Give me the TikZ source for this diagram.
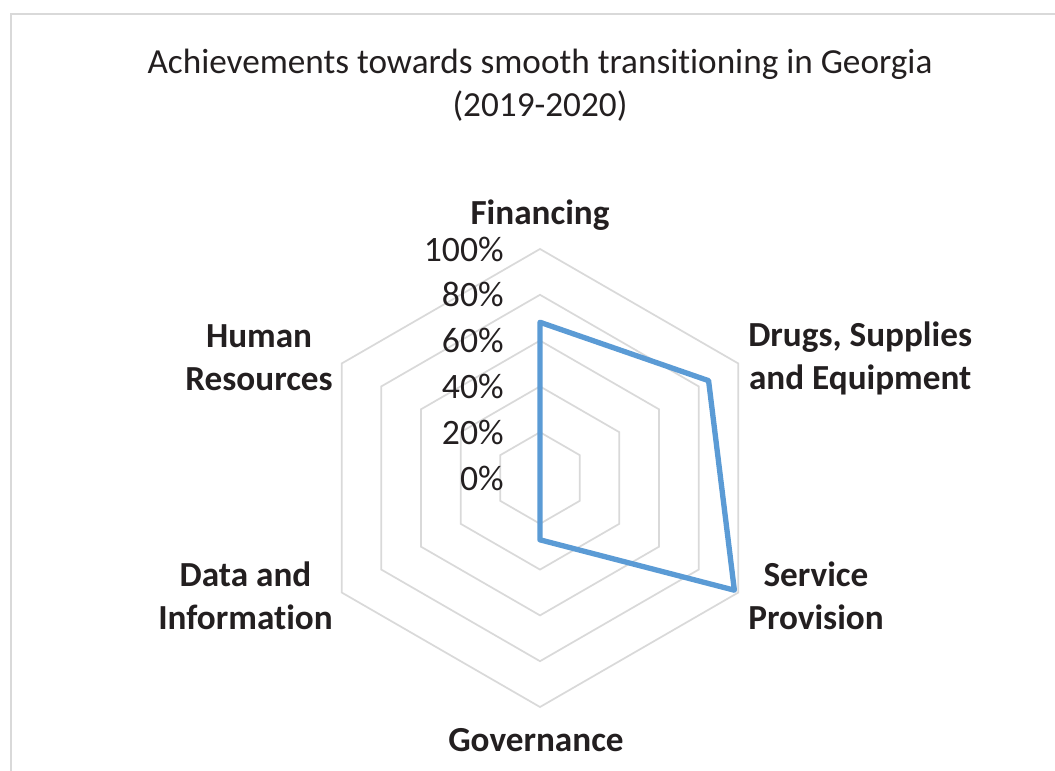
\documentclass[tikz,border=0pt]{standalone}
\usepackage{fontspec}
\setmainfont{Carlito}[Ligatures={NoCommon}]
\usepackage{xcolor}
\usetikzlibrary{positioning,calc}
\definecolor{GridColour}{HTML}{D9D9D9}
\definecolor{SeriesColour}{HTML}{5B9BD5}
\definecolor{ChartTextColour}{HTML}{231F20}
\tikzstyle{ChartFrame}=[draw=GridColour,line width=1.4pt]
\tikzstyle{ChartTitle}=[align=center,text=ChartTextColour,font=\fontsize{26.4}{32}\selectfont]
\tikzstyle{AxisLabel}=[align=center,text=ChartTextColour,font=\bfseries\fontsize{26.4}{32.3}\selectfont,inner sep=0pt]
\tikzstyle{TickLabel}=[anchor=east,text=ChartTextColour,font=\fontsize{26.8}{30}\selectfont,inner sep=0pt]
\tikzstyle{GridRing}=[draw=GridColour,line width=1.3pt]
\tikzstyle{SeriesLine}=[draw=SeriesColour,line width=4pt,line join=round]
\newcommand{\RingStep}{45.8}

\begin{document}
\begin{tikzpicture}[x=0.75pt,y=0.75pt]
  \useasboundingbox (0,0) rectangle (1055,770);
  \draw[ChartFrame] (11,-20) rectangle (1080,756);
  \node[ChartTitle](Title) at (540,685){Achievements towards smooth transitioning in Georgia\\(2019-2020)};
  \coordinate (Centre) at (540,292);

  % grid rings 20% .. 100%
  \foreach \r in {1,...,5}{
    \draw[GridRing,shift={(Centre)}] (90:\r*\RingStep) -- (30:\r*\RingStep) -- (-30:\r*\RingStep) -- (-90:\r*\RingStep) -- (-150:\r*\RingStep) -- (150:\r*\RingStep) -- cycle;
  }
  \foreach \p [count=\i from 0] in {0,20,40,60,80,100}
    \node[TickLabel](Tick\p) at ($(Centre)+(-36,\i*\RingStep)$){\p\%};

  % data points
  \coordinate (FinancingVal) at ($(Centre)+(90:0.68*5*\RingStep)$);
  \coordinate (DrugsVal) at ($(Centre)+(30:0.85*5*\RingStep)$);
  \coordinate (ServiceVal) at ($(Centre)+(-30:0.98*5*\RingStep)$);
  \coordinate (GovernanceVal) at ($(Centre)+(-90:0.27*5*\RingStep)$);
  \coordinate (DataVal) at (Centre);
  \coordinate (HumanVal) at (Centre);
  \draw[SeriesLine] (FinancingVal) -- (DrugsVal) -- (ServiceVal) -- (GovernanceVal) -- (DataVal) -- (HumanVal) -- cycle;

  \node[AxisLabel](Financing) at (540,555){Financing};
  \node[AxisLabel,anchor=west](Drugs) at (748,412){Drugs, Supplies\\and Equipment};
  \node[AxisLabel,anchor=west](Service) at (748,174){Service\\Provision};
  \node[AxisLabel](Governance) at (536,30){Governance};
  \node[AxisLabel,anchor=east](Data) at (333,174){Data and\\Information};
  \node[AxisLabel,anchor=east](Human) at (333,412){Human\\Resources};
\end{tikzpicture}
\end{document}
